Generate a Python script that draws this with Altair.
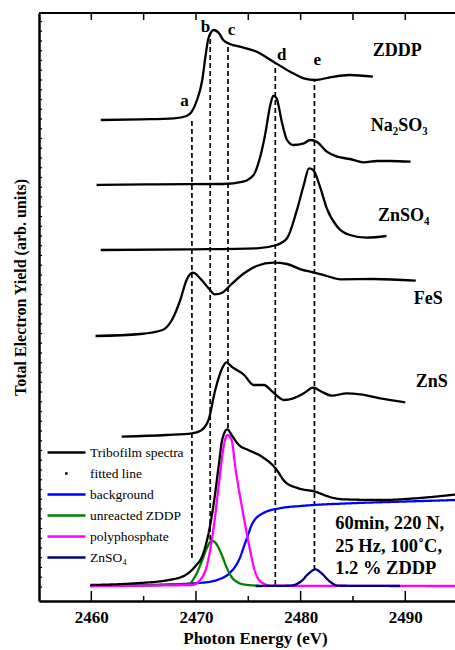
import altair as alt
import pandas as pd

FONT = "Liberation Serif"
XMIN, XMAX = 2455, 2494.75
YMAX = 588

# ---------------- reference spectra (eV, arbitrary offset intensity) -------------
zddp_x = [2460.9, 2464.7, 2467.9, 2469.1, 2469.6, 2470.1, 2470.6, 2470.9, 2471.2, 2471.7, 2472.2,
          2472.6, 2473.3, 2474.2, 2475.8, 2477.4, 2479.0, 2480.3, 2481.4, 2482.8, 2484.7, 2486.9]
zddp_y = [481, 481.7, 482.7, 485, 489.3, 501, 521, 544, 563, 571, 567.7,
          561, 556.7, 554.3, 549.3, 539.3, 529.3, 522.7, 521, 523.7, 526, 524.3]

na2so3_x = [2460.5, 2466.2, 2472.6, 2474.5, 2475.5, 2476.1, 2476.6, 2477.1, 2477.4, 2477.7, 2478.2, 2478.7,
            2479.3, 2480.3, 2480.9, 2481.6, 2482.5, 2483.5, 2484.7, 2486.0, 2487.3, 2488.6, 2490.5]
na2so3_y = [416, 416.7, 417, 419.3, 426, 442.7, 466, 496, 505.3, 502.7, 479.3, 461,
            456, 457.7, 461, 458.7, 449.3, 444.3, 442, 438.7, 440, 440, 439.3]

znso4_x = [2460.9, 2469.5, 2475.8, 2477.7, 2478.7, 2479.6, 2480.3, 2480.8, 2481.2, 2481.9, 2482.5,
           2483.5, 2484.7, 2486.3, 2488.2]
znso4_y = [351, 351.7, 352.7, 356, 362.7, 389.3, 416, 432.7, 431, 412.7, 392.7,
           374.3, 366, 363.3, 365]

fes_x = [2460.4, 2464.7, 2466.8, 2467.7, 2468.5, 2469.1, 2469.7, 2470.4, 2471.2, 2471.8, 2472.5,
         2473.3, 2474.6, 2475.8, 2477.4, 2478.7, 2480.0, 2481.2, 2482.5, 2483.8, 2487.0, 2491.0]
fes_y = [265, 267, 271, 281, 301, 321, 328.3, 322.7, 312.7, 306.7, 308.3,
         316, 327.7, 335, 338.3, 337, 331.7, 328.7, 325, 321.7, 322, 320.3]

zns_x = [2462.9, 2467.2, 2469.6, 2470.4, 2471.2, 2471.8, 2472.5, 2472.9, 2473.4, 2474.6, 2475.5, 2476.5,
         2477.3, 2478.4, 2479.3, 2480.3, 2481.2, 2482.0, 2483.0, 2484.4, 2485.7, 2487.6, 2490.0]
zns_y = [164.3, 166, 167.7, 170, 181, 209.3, 232.7, 238.7, 234.3, 226, 216, 216,
         209.3, 201, 202.7, 207.7, 213.3, 209.3, 205.3, 207.7, 206.7, 202.7, 198.7]

# ---------------- tribofilm spectrum and fit components -------------------------
tribo_x = [2459.9, 2464.2, 2467.4, 2469.0, 2469.9, 2470.7, 2471.2, 2471.7, 2472.2, 2472.5, 2473.0, 2473.4,
           2474.1, 2475.0, 2476.3, 2477.6, 2478.5, 2479.8, 2481.4, 2482.7, 2484.0, 2487.8, 2491.0, 2494.8]
tribo_y = [16, 17.7, 21, 26, 34.3, 47.7, 67.7, 97.7, 137.7, 161, 171.7, 166,
           156, 151, 144.3, 132.7, 119.3, 112.7, 109.3, 104.3, 101.7, 101, 102.7, 106.5]

bg_x = [2459.9, 2465.8, 2470.6, 2472.2, 2473.2, 2474.1, 2474.8, 2475.4, 2476.4, 2478.0, 2480.0, 2484.7, 2489.5, 2494.8]
bg_y = [15, 16, 18.3, 21.7, 27.7, 41, 61, 77.7, 87.7, 92.7, 95, 97.7, 99.3, 101]

unr_x = [2460.0, 2469.3, 2469.9, 2470.6, 2471.1, 2471.5, 2471.9, 2472.4, 2472.9, 2473.5, 2474.5, 2476.0]
unr_y = [15, 17, 24.3, 41, 54.3, 60.3, 57.7, 47.7, 34.3, 22.7, 16.7, 15.3]

poly_x = [2460.0, 2469.6, 2470.4, 2471.1, 2471.7, 2472.2, 2472.7, 2473.0, 2473.4, 2473.8, 2474.5, 2475.1,
          2475.7, 2476.4, 2477.3, 2494.8]
poly_y = [15, 16, 21, 37.7, 74.3, 117.7, 157.7, 166, 161, 131, 87.7, 54.3,
          27.7, 17.7, 15.3, 15]

zfit_x = [2475.7, 2479.0, 2480.0, 2480.8, 2481.4, 2482.0, 2482.8, 2483.6, 2489.5]
zfit_y = [15, 15.3, 19.3, 27.7, 31.7, 27.7, 19.3, 15.3, 15]

legend_names = ["Tribofilm spectra", "fitted line", "background", "unreacted  ZDDP", "polyphosphate", "ZnSO₄"]
legend_colors = ["black", "black", "#0000ff", "#008000", "#ff00ff", "#000080"]
legend_dashes = [[1, 0], [0.1, 17.5, 2.5, 100], [1, 0], [1, 0], [1, 0], [1, 0]]

# ---------------- dashed marker lines a-e ---------------------------------------
marker_names = ["a", "b", "c", "d", "e"]
marker_x = [2469.61, 2471.36, 2473.06, 2477.58, 2481.32]
marker_top = [483, 568, 554, 535, 521]
marker_bottom = [43, 61, 173, 16, 31]
letter_x = [2468.9, 2470.9, 2473.4, 2478.2, 2481.6]
letter_y = [500, 574, 571, 546, 541]

sample_names = ["ZDDP", "Na₂SO₃", "ZnSO₄", "FeS", "ZnS"]
sample_label_x = [2486.9, 2486.7, 2487.4, 2490.8, 2491.0]
sample_label_y = [550, 475, 385, 302, 219]

cond_lines = ["60min, 220 N,", "25 Hz, 100˚C,", "1.2 % ZDDP"]
cond_x = [2483.3, 2483.3, 2483.3]
cond_y = [78, 55, 33]

x_tick_labels = [2460, 2470, 2480, 2490]
x_ticks = [2460, 2465, 2470, 2475, 2480, 2485, 2490]
y_ticks = [14 + 9.75 * i for i in range(60)]

# ---------------- tables ---------------------------------------------------------
samples = pd.concat([
    pd.DataFrame({"name": n, "x": xs_, "y": ys_})
    for n, xs_, ys_ in [("ZDDP", zddp_x, zddp_y), ("Na2SO3", na2so3_x, na2so3_y),
                        ("ZnSO4", znso4_x, znso4_y), ("FeS", fes_x, fes_y), ("ZnS", zns_x, zns_y)]
])
fits = pd.concat([
    pd.DataFrame({"series": n, "x": xs_, "y": ys_})
    for n, xs_, ys_ in [("background", bg_x, bg_y), ("unreacted  ZDDP", unr_x, unr_y),
                        ("polyphosphate", poly_x, poly_y), ("ZnSO₄", zfit_x, zfit_y),
                        ("Tribofilm spectra", tribo_x, tribo_y)]
])
markers = pd.DataFrame({"name": marker_names, "x": marker_x, "y": marker_bottom, "y2": marker_top})
letters = pd.DataFrame({"label": marker_names, "x": letter_x, "y": letter_y})
snames = pd.DataFrame({"label": sample_names, "x": sample_label_x, "y": sample_label_y})
conds = pd.DataFrame({"label": cond_lines, "x": cond_x, "y": cond_y})

bottom_ticks = pd.DataFrame({"x": x_ticks, "y": [0] * len(x_ticks),
                             "y2": [10 if v % 10 == 0 else 5 for v in x_ticks]})
top_ticks = pd.DataFrame({"x": x_ticks, "y": [YMAX] * len(x_ticks), "y2": [YMAX - 7] * len(x_ticks)})
left_ticks = pd.DataFrame({"y": [v for v in y_ticks if v < YMAX - 5], "x": XMIN})
left_ticks["x2"] = XMIN + 0.3
top_border = pd.DataFrame({"x": [XMIN], "x2": [XMAX], "y": [YMAX]})

# ---------------- encodings ------------------------------------------------------
xs = alt.Scale(domain=[XMIN, XMAX], nice=False, zero=False)
ys = alt.Scale(domain=[0, YMAX], nice=False, zero=False)
xaxis = alt.Axis(values=x_tick_labels, format="d", ticks=False, grid=False,
                 domainWidth=2.5, domainColor="black",
                 labelFont=FONT, labelFontSize=17, labelFontWeight="bold", labelColor="black",
                 labelPadding=8, labelFlush=False,
                 title="Photon Energy (eV)", titleFont=FONT, titleFontSize=17,
                 titleFontWeight="bold", titleColor="black", titlePadding=5, titleX=216)
yaxis = alt.Axis(labels=False, ticks=False, grid=False, domainWidth=2.5, domainColor="black",
                 title="Total Electron Yield (arb. units)", titleFont=FONT, titleFontSize=16,
                 titleFontWeight="bold", titleColor="black", titlePadding=11, titleY=274)
X = alt.X("x:Q", scale=xs, axis=xaxis)
Y = alt.Y("y:Q", scale=ys, axis=yaxis)

legend_props = dict(title=None, orient="none", legendX=7, legendY=429,
                    symbolType="stroke", symbolSize=1444, symbolStrokeWidth=2.5,
                    labelFont=FONT, labelFontSize=13.5, labelColor="black",
                    labelOffset=3, clipHeight=21, rowPadding=0, padding=0)

dashed = alt.Chart(markers).mark_rule(strokeDash=[5, 3], strokeWidth=1.7, color="black").encode(
    x=X, y=Y, y2="y2:Q")

sample_lines = alt.Chart(samples).mark_line(strokeWidth=2.3, color="black", interpolate="monotone",
                                            clip=True).encode(x=X, y=Y, detail="name:N")

fit_lines = alt.Chart(fits).mark_line(strokeWidth=2.3, interpolate="monotone", clip=True).encode(
    x=X, y=Y,
    color=alt.Color("series:N", scale=alt.Scale(domain=legend_names, range=legend_colors),
                    legend=alt.Legend(**legend_props)),
    strokeDash=alt.StrokeDash("series:N", scale=alt.Scale(domain=legend_names, range=legend_dashes),
                              legend=alt.Legend(**legend_props)),
)

letter_text = alt.Chart(letters).mark_text(font=FONT, fontSize=17, fontWeight="bold",
                                           color="black").encode(x=X, y=Y, text="label:N")
sample_text = alt.Chart(snames).mark_text(font=FONT, fontSize=18, fontWeight="bold", color="black",
                                          align="left").encode(x=X, y=Y, text="label:N")
cond_text = alt.Chart(conds).mark_text(font=FONT, fontSize=18.5, fontWeight="bold", color="black",
                                       align="left").encode(x=X, y=Y, text="label:N")

tick_b = alt.Chart(bottom_ticks).mark_rule(color="black", strokeWidth=1.5).encode(x=X, y=Y, y2="y2:Q")
tick_t = alt.Chart(top_ticks).mark_rule(color="black", strokeWidth=1.5).encode(x=X, y=Y, y2="y2:Q")
tick_l = alt.Chart(left_ticks).mark_rule(color="black", strokeWidth=1.2).encode(x=X, x2="x2:Q", y=Y)
border_t = alt.Chart(top_border).mark_rule(color="black", strokeWidth=2).encode(x=X, x2="x2:Q", y=Y)

chart = alt.layer(
    dashed, sample_lines, fit_lines, letter_text, sample_text, cond_text,
    tick_b, tick_t, tick_l, border_t
).properties(
    width=416, height=588,
    autosize=alt.AutoSizeParams(type="none"),
    padding={"left": 39, "top": 13, "right": 0, "bottom": 49},
    background="white",
).configure_view(stroke=None)

chart.save("out.html", embed_options={"renderer": "svg", "actions": False})
